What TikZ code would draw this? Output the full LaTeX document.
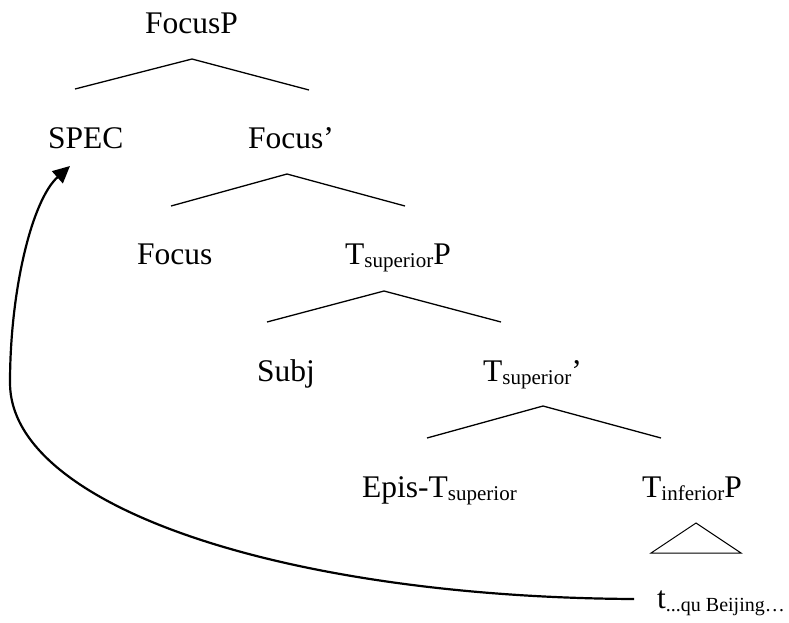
\documentclass[tikz,border=0pt]{standalone}
\usepackage{fontspec}
\setmainfont{Liberation Serif}
\usetikzlibrary{arrows.meta}
\newcommand{\lbl}{\fontsize{31.5}{33}\selectfont}
\newcommand{\subtxt}[1]{\raisebox{-3pt}{\fontsize{21}{21}\selectfont #1}}
\newcommand{\tracesub}[1]{\raisebox{-3pt}{\fontsize{20}{20}\selectfont #1}}
\begin{document}
\begin{tikzpicture}[x=1pt,y=-1pt,
  word/.style={anchor=base west,inner sep=0pt,font=\lbl},
  branch/.style={line width=1.3pt,line join=miter},
  roof/.style={line width=1pt},
  movement/.style={line width=2.2pt,-{Triangle[length=17pt,width=16pt]}}]
\useasboundingbox (0,0) rectangle (789,622);

% labels of the tree
\node[word] (focusp)  at (145,33)  {FocusP};
\node[word] (spec)    at (48,148)  {SPEC};
\node[word] (focusb)  at (248,148) {Focus’};
\node[word] (focus)   at (137,264) {Focus};
\node[word] (tsupp)   at (345,264) {T\subtxt{superior}P};
\node[word] (subj)    at (257,381) {Subj};
\node[word] (tsupb)   at (483,381) {T\subtxt{superior}’};
\node[word] (epis)    at (362,497) {Epis-T\subtxt{superior}};
\node[word] (tinfp)   at (642,497) {T\subtxt{inferior}P};
\node[word] (trace)   at (657,608) {t\tracesub{...qu Beijing…}};

% branching points
\coordinate (a1) at (192,59);  \coordinate (l1) at (75,89);   \coordinate (r1) at (309,90);
\coordinate (a2) at (287,174); \coordinate (l2) at (171,206); \coordinate (r2) at (405,206);
\coordinate (a3) at (384,291); \coordinate (l3) at (267,322); \coordinate (r3) at (501,322);
\coordinate (a4) at (543,406); \coordinate (l4) at (427,438); \coordinate (r4) at (661,438);
\draw[branch] (l1) -- (a1) -- (r1);
\draw[branch] (l2) -- (a2) -- (r2);
\draw[branch] (l3) -- (a3) -- (r3);
\draw[branch] (l4) -- (a4) -- (r4);

% triangle under the lowest phrase
\coordinate (ta) at (696,523); \coordinate (tl) at (651,553); \coordinate (tr) at (741,553);
\draw[roof] (ta) -- (tl) -- (tr) -- cycle;

% movement arrow from the trace to the specifier
\coordinate (src) at (634,599);
\coordinate (bend) at (10,383);
\coordinate (goal) at (70,166);
\draw[movement] (src) .. controls (280,597) and (10,505) .. (bend)
  .. controls (10,290) and (32,200) .. (goal);
\end{tikzpicture}
\end{document}
